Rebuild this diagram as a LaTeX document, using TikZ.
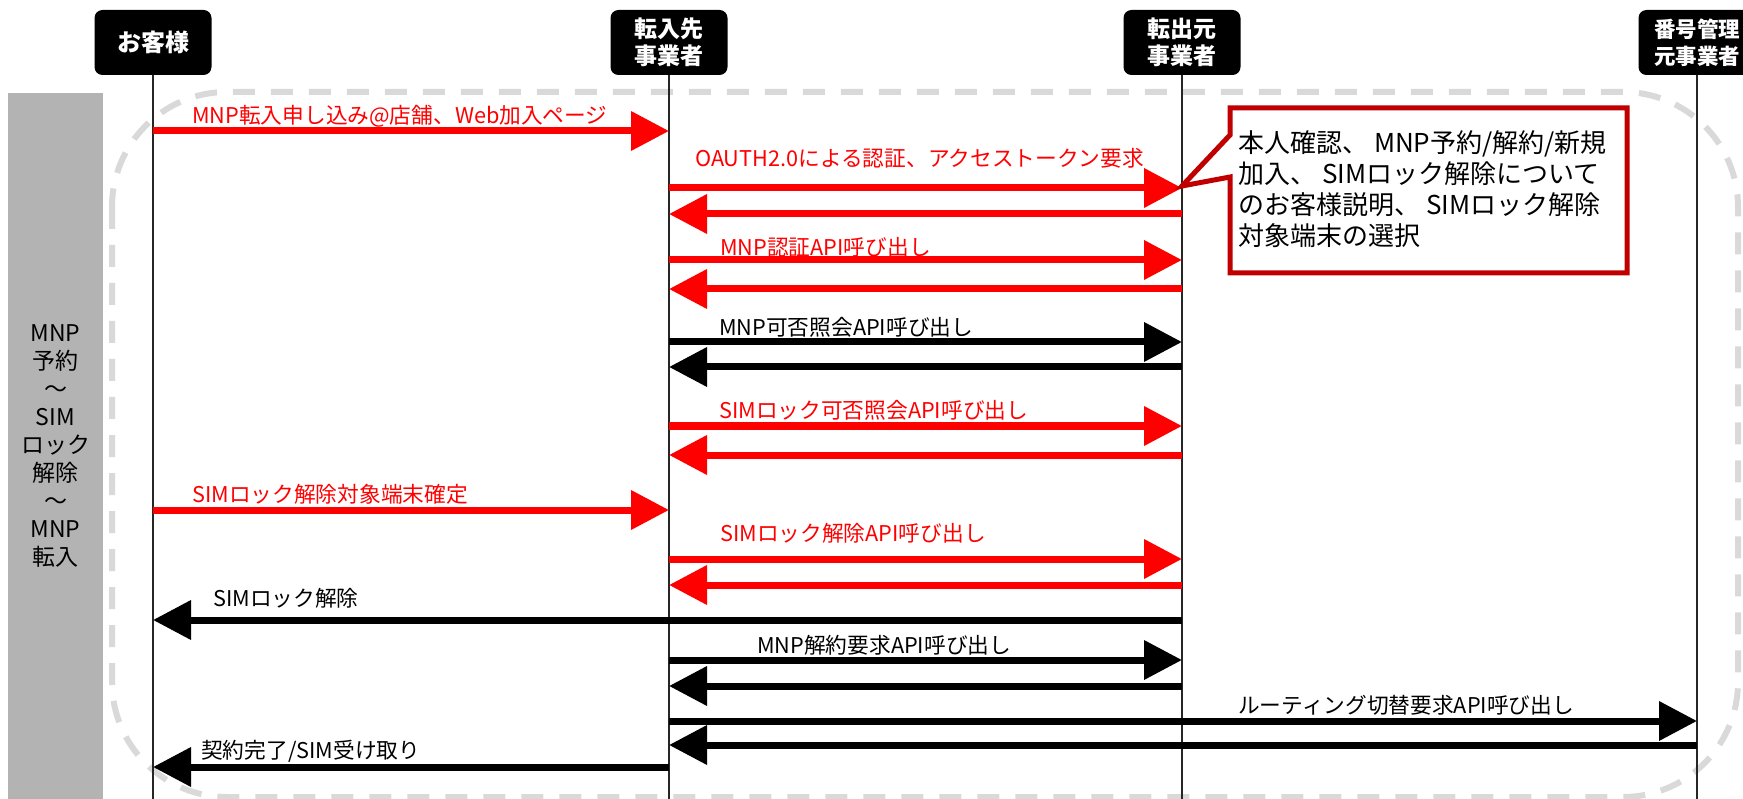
\documentclass[tikz,border=0pt]{standalone}
\usepackage{fontspec}
\setmainfont{Noto Sans CJK JP}
\usepackage{tikz}
\usetikzlibrary{arrows.meta}

\definecolor{msgred}{RGB}{255,0,0}
\definecolor{notered}{RGB}{192,0,0}
\definecolor{phasegrey}{RGB}{179,179,179}
\definecolor{framegrey}{RGB}{217,217,217}

\begin{document}
\begin{tikzpicture}[
            x=1pt, y=-1pt, % one unit per pixel, y going down
            actor/.style={fill=black, text=white, rounded corners=8pt, minimum width=117pt, minimum height=65pt, inner sep=0pt, align=center, font=\fontsize{23}{27}\selectfont\bfseries}, % header boxes
            lifeline/.style={line width=1.1pt, black!85}, % vertical lines
            redmsg/.style={line width=7pt, msgred, -{Triangle[length=38pt,width=38pt]}}, % red message
            blackmsg/.style={line width=7pt, black, -{Triangle[length=38pt,width=38pt]}}, % black message
            msglabel/.style={anchor=west, inner sep=0pt, font=\fontsize{21.7}{25}\selectfont} % text over a message
            ]

                \useasboundingbox (0,0) rectangle (1743,799);

                % phase bar on the left
                \node[fill=phasegrey, minimum width=95pt, minimum height=706pt, inner sep=0pt, align=center,
                      font=\fontsize{23}{28}\selectfont] (phase) at (55.5,446)
                      {MNP\\予約\\～\\SIM\\ロック\\解除\\～\\MNP\\転入};

                % dashed frame round the messages
                \draw[framegrey, line width=6pt, dash pattern=on 22pt off 16pt, rounded corners=115pt]
                    (112,92) rectangle (1738,797);

                % header boxes and their lines
                \node[actor, font=\fontsize{24}{27}\selectfont\bfseries] (cust) at (153,42.5) {お客様};
                \node[actor] (into) at (669,42.5) {転入先\\事業者};
                \node[actor] (out) at (1182,42.5) {転出元\\事業者};
                \node[actor, font=\fontsize{21.5}{27}\selectfont\bfseries] (num) at (1697,42.5) {番号管理\\元事業者};
                \foreach \who in {cust,into,out,num}
                    \draw[lifeline] (\who.south) -- (\who |- 0,799);

                % messages
                \draw[redmsg] (cust |- 0,131) -- (into |- 0,131);
                \node[msglabel, text=msgred] (l1) at (192,116) {MNP転入申し込み@店舗、Web加入ページ};
                \draw[redmsg] (into |- 0,188) -- (out |- 0,188);
                \node[msglabel, text=msgred] (l2) at (695,158) {OAUTH2.0による認証、アクセストークン要求};
                \draw[redmsg] (out |- 0,214) -- (into |- 0,214);
                \draw[redmsg] (into |- 0,260) -- (out |- 0,260);
                \node[msglabel, text=msgred] (l3) at (720,247) {MNP認証API呼び出し};
                \draw[redmsg] (out |- 0,289) -- (into |- 0,289);
                \draw[blackmsg] (into |- 0,342) -- (out |- 0,342);
                \node[msglabel] (l4) at (719,327) {MNP可否照会API呼び出し};
                \draw[blackmsg] (out |- 0,367) -- (into |- 0,367);
                \draw[redmsg] (into |- 0,426) -- (out |- 0,426);
                \node[msglabel, text=msgred] (l5) at (719,410) {SIMロック可否照会API呼び出し};
                \draw[redmsg] (out |- 0,455) -- (into |- 0,455);
                \draw[redmsg] (cust |- 0,510) -- (into |- 0,510);
                \node[msglabel, text=msgred] (l6) at (192,494) {SIMロック解除対象端末確定};
                \draw[redmsg] (into |- 0,559) -- (out |- 0,559);
                \node[msglabel, text=msgred] (l7) at (720,533) {SIMロック解除API呼び出し};
                \draw[redmsg] (out |- 0,585) -- (into |- 0,585);
                \draw[blackmsg] (out |- 0,620) -- (cust |- 0,620);
                \node[msglabel] (l8) at (213,598) {SIMロック解除};
                \draw[blackmsg] (into |- 0,660) -- (out |- 0,660);
                \node[msglabel] (l9) at (757,645) {MNP解約要求API呼び出し};
                \draw[blackmsg] (out |- 0,686) -- (into |- 0,686);
                \draw[blackmsg] (into |- 0,721) -- (num |- 0,721);
                \node[msglabel] (l10) at (1238,705) {ルーティング切替要求API呼び出し};
                \draw[blackmsg] (num |- 0,745) -- (into |- 0,745);
                \draw[blackmsg] (into |- 0,767) -- (cust |- 0,767);
                \node[msglabel] (l11) at (201,751) {契約完了/SIM受け取り};

                % callout pointing at the out line
                \coordinate (notetip) at (out |- 0,186);
                \draw[notered, line width=5pt, fill=white, line join=miter]
                    (1230,108) -- (1627,108) -- (1627,273) -- (1230,273) -- (1230,177) -- (notetip) -- (1230,135) -- cycle;
                \node[anchor=west, align=left, inner sep=0pt, font=\fontsize{26}{31}\selectfont] (note) at (1238,189)
                    {本人確認、 MNP予約/解約/新規\\加入、 SIMロック解除について\\のお客様説明、 SIMロック解除\\対象端末の選択};

            \end{tikzpicture}
\end{document}
